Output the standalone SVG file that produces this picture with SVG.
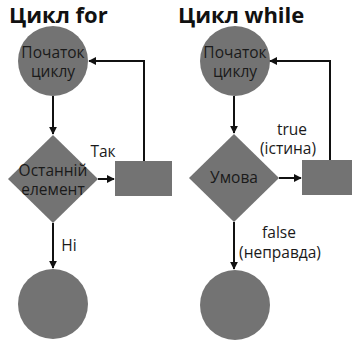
<svg xmlns="http://www.w3.org/2000/svg" width="352" height="340" viewBox="0 0 352 340">
  <style>
    .shape { fill: #737373; }
    .title { font-family: "Open Sans", "Liberation Sans", sans-serif; font-weight: bold; font-size: 22px; fill: #111; }
    .lbl { font-family: "Open Sans", "Liberation Sans", sans-serif; font-size: 15.5px; fill: #1a1a1a; text-anchor: middle; }
    .edge { fill: none; stroke: #111; stroke-width: 2; marker-end: url(#arrow); }
  </style>
  <defs>
    <marker id="arrow" viewBox="0 0 10 10" refX="9" refY="5" markerWidth="4" markerHeight="4" orient="auto">
      <path d="M0,0 L10,5 L0,10 Z" fill="#111"/>
    </marker>
  </defs>
  <rect width="352" height="340" fill="#fff"/>

  <text class="title" x="9" y="23">Цикл for</text>
  <text class="title" x="178" y="23">Цикл while</text>

  <!-- for loop -->
  <g id="for-start">
    <circle class="shape" cx="53" cy="61" r="35"/>
    <text class="lbl" x="53" y="58">Початок</text>
    <text class="lbl" x="53" y="77">циклу</text>
  </g>
  <g id="for-check">
    <polygon class="shape" points="53,135 98,179 53,223 8,179"/>
    <text class="lbl" x="53" y="176">Останній</text>
    <text class="lbl" x="53" y="195">елемент</text>
  </g>
  <g id="for-body">
    <rect class="shape" x="115" y="161" width="57" height="35"/>
  </g>
  <g id="for-end">
    <circle class="shape" cx="53" cy="304" r="35"/>
  </g>

  <!-- while loop -->
  <g id="while-start">
    <circle class="shape" cx="235" cy="61" r="35"/>
    <text class="lbl" x="235" y="58">Початок</text>
    <text class="lbl" x="235" y="77">циклу</text>
  </g>
  <g id="while-check">
    <polygon class="shape" points="234,134 279,178 234,222 189,178"/>
    <text class="lbl" x="234" y="183">Умова</text>
  </g>
  <g id="while-body">
    <rect class="shape" x="302" y="160" width="50" height="35"/>
  </g>
  <g id="while-end">
    <circle class="shape" cx="235" cy="305" r="35"/>
  </g>

  <g id="connectors">
    <path class="edge" d="M53,96 V134"/>
    <path class="edge" d="M98,179 H114"/>
    <path class="edge" d="M144,161 V61 H89"/>
    <path class="edge" d="M53,223 V268"/>
    <path class="edge" d="M234,96 V133"/>
    <path class="edge" d="M279,178 H301"/>
    <path class="edge" d="M330,160 V61 H270"/>
    <path class="edge" d="M234,222 V269"/>
  </g>

  <g id="edge-labels">
    <text class="lbl" x="103" y="157">Так</text>
    <text class="lbl" x="69" y="251">Ні</text>
    <text class="lbl" x="292" y="135">true</text>
    <text class="lbl" x="288" y="154">(істина)</text>
    <text class="lbl" x="279" y="238">false</text>
    <text class="lbl" x="280" y="258">(неправда)</text>
  </g>
</svg>
